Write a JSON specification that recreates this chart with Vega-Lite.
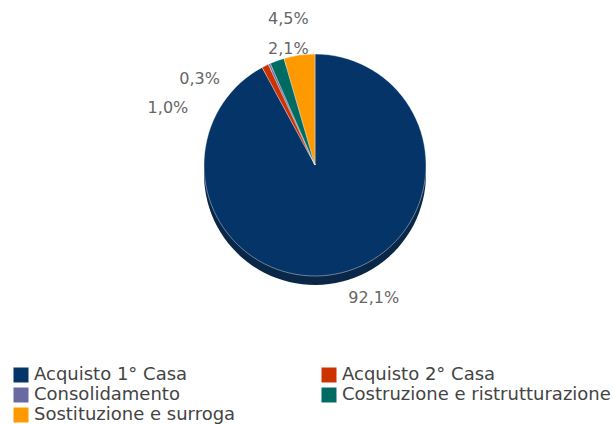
{
  "$schema": "https://vega.github.io/schema/vega-lite/v6.json",
  "width": 596,
  "height": 330,
  "autosize": {"type": "none"},
  "padding": {"left": 17, "top": 0, "right": 0, "bottom": 94},
  "background": "white",
  "config": {"view": {"stroke": null}, "font": "DejaVu Sans"},
  "data": {
    "values": [
      {"cat": "Acquisto 1° Casa", "value": 92.1, "label": "92,1%"},
      {"cat": "Acquisto 2° Casa", "value": 1.0, "label": "1,0%"},
      {"cat": "Consolidamento", "value": 0.3, "label": "0,3%"},
      {"cat": "Costruzione e ristrutturazione", "value": 2.1, "label": "2,1%"},
      {"cat": "Sostituzione e surroga", "value": 4.5, "label": "4,5%"}
    ]
  },
  "encoding": {
    "theta": {"field": "value", "type": "quantitative", "stack": true},
    "detail": {"field": "cat", "type": "nominal"},
    "order": {"field": "cat", "type": "nominal", "sort": "ascending"}
  },
  "layer": [
    {
      "mark": {"type": "arc", "outerRadius": 111, "yOffset": 9},
      "encoding": {"color": {"value": "#0a2748"}}
    },
    {
      "mark": {"type": "arc", "outerRadius": 111, "stroke": "#ffffff", "strokeWidth": 0.4},
      "encoding": {
        "color": {
          "field": "cat",
          "type": "nominal",
          "scale": {
            "domain": ["Acquisto 1° Casa", "Acquisto 2° Casa", "Consolidamento", "Costruzione e ristrutturazione", "Sostituzione e surroga"],
            "range": ["#043468", "#cc3300", "#6a6aa2", "#006b63", "#ff9900"]
          },
          "legend": {
            "title": null,
            "orient": "none",
            "legendX": -5,
            "legendY": 366,
            "direction": "horizontal",
            "columns": 2,
            "columnPadding": 84,
            "rowPadding": 2,
            "padding": 0,
            "symbolType": "square",
            "symbolSize": 225,
            "symbolStrokeWidth": 0,
            "symbolOpacity": 1,
            "labelFont": "DejaVu Sans",
            "labelFontSize": 18,
            "labelColor": "#444444",
            "labelOffset": 4,
            "labelLimit": 400
          }
        }
      }
    },
    {
      "mark": {"type": "text", "radius": 125, "dx": 28, "dy": 12, "fontSize": 16, "color": "#666666", "font": "DejaVu Sans"},
      "encoding": {"text": {"condition": {"test": "datum.cat === 'Acquisto 1° Casa'", "field": "label"}, "value": ""}}
    },
    {
      "mark": {"type": "text", "radius": 125, "dx": -91, "dy": 55, "fontSize": 16, "color": "#666666", "font": "DejaVu Sans"},
      "encoding": {"text": {"condition": {"test": "datum.cat === 'Acquisto 2° Casa'", "field": "label"}, "value": ""}}
    },
    {
      "mark": {"type": "text", "radius": 125, "dx": -64, "dy": 28, "fontSize": 16, "color": "#666666", "font": "DejaVu Sans"},
      "encoding": {"text": {"condition": {"test": "datum.cat === 'Consolidamento'", "field": "label"}, "value": ""}}
    },
    {
      "mark": {"type": "text", "radius": 125, "dx": 16, "dy": 1, "fontSize": 16, "color": "#666666", "font": "DejaVu Sans"},
      "encoding": {"text": {"condition": {"test": "datum.cat === 'Costruzione e ristrutturazione'", "field": "label"}, "value": ""}}
    },
    {
      "mark": {"type": "text", "radius": 125, "dx": -9, "dy": -22, "fontSize": 16, "color": "#666666", "font": "DejaVu Sans"},
      "encoding": {"text": {"condition": {"test": "datum.cat === 'Sostituzione e surroga'", "field": "label"}, "value": ""}}
    }
  ]
}
